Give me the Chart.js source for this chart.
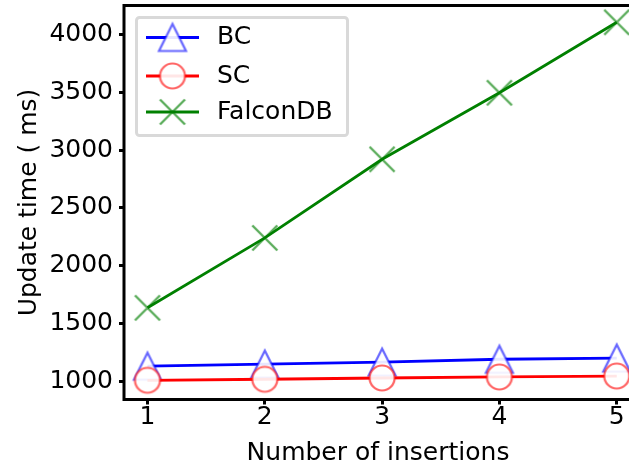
<!DOCTYPE html>
<html>
<head>
<meta charset="utf-8">
<script src="https://cdn.jsdelivr.net/npm/chart.js@4/dist/chart.umd.min.js"></script>
<style>
  html, body { margin: 0; padding: 0; background: #fff; overflow: hidden; }
  canvas { display: block; }
</style>
</head>
<body>
<canvas id="chart" width="632" height="463"></canvas>
<script>
// Update time (ms) per number of insertions
const insertions = [1, 2, 3, 4, 5];
const bcTimes = [1130, 1148, 1165, 1190, 1200];
const scTimes = [1008, 1017, 1028, 1037, 1045];
const falconTimes = [1635, 2240, 2920, 3495, 4105];
const yTickValues = [1000, 1500, 2000, 2500, 3000, 3500, 4000];
const seriesNames = ['BC', 'SC', 'FalconDB'];

const FONT = "'DejaVu Sans', 'Liberation Sans', sans-serif";

// Hollow, semi-transparent markers drawn once onto small canvases
function makeMarker(kind, stroke) {
  const size = 36;
  const c = document.createElement('canvas');
  c.width = size; c.height = size;
  const g = c.getContext('2d');
  const m = size / 2;
  g.lineWidth = 2.2;
  g.strokeStyle = stroke;
  g.fillStyle = 'rgba(255,255,255,0.9)';
  if (kind === 'triangle') {
    const h = 13.5;
    g.beginPath();
    g.moveTo(m, m - h);
    g.lineTo(m - h, m + h);
    g.lineTo(m + h, m + h);
    g.closePath();
    g.fill();
    g.stroke();
  } else if (kind === 'circle') {
    g.beginPath();
    g.arc(m, m, 12.5, 0, Math.PI * 2);
    g.fill();
    g.stroke();
  } else {
    const h = 12.5;
    g.lineWidth = 2.4;
    g.beginPath();
    g.moveTo(m - h, m - h); g.lineTo(m + h, m + h);
    g.moveTo(m - h, m + h); g.lineTo(m + h, m - h);
    g.stroke();
  }
  return c;
}

const bcMarker = makeMarker('triangle', 'rgba(0,0,255,0.6)');
const scMarker = makeMarker('circle', 'rgba(255,0,0,0.6)');
const falconMarker = makeMarker('cross', 'rgba(0,128,0,0.65)');

const toPoints = ys => insertions.map((x, i) => ({ x: x, y: ys[i] }));

function series(label, values, color, marker, order) {
  return {
    label: label,
    data: toPoints(values),
    borderColor: color,
    backgroundColor: color,
    borderWidth: 2.8,
    tension: 0,
    fill: false,
    pointStyle: marker,
    pointRadius: 14,
    pointHoverRadius: 14,
    order: order
  };
}

// Keep the plot box where it is: no extra room reserved for edge labels
function noEdgePadding(s) {
  s.paddingTop = 0;
  s.paddingBottom = 0;
  s.paddingLeft = 0;
  s.paddingRight = 0;
}

// Open-ended frame (left, bottom, top spines; the plot runs off the right edge)
// and the boxed legend with line + marker samples
const frameAndLegend = {
  id: 'frameAndLegend',
  beforeDraw(chart) {
    const { ctx } = chart;
    ctx.save();
    ctx.beginPath();
    ctx.rect(0, 0, chart.width - 3, chart.height);
    ctx.clip();
  },
  afterDatasetsDraw(chart) {
    const { ctx, chartArea } = chart;
    const { left, top, right, bottom } = chartArea;
    ctx.save();
    ctx.strokeStyle = '#000';
    ctx.lineWidth = 3;
    ctx.lineCap = 'butt';
    ctx.beginPath();
    ctx.moveTo(left, top - 1.5);
    ctx.lineTo(left, bottom + 1.5);
    ctx.moveTo(left - 1.5, bottom);
    ctx.lineTo(right + 2, bottom);
    ctx.moveTo(left - 1.5, top);
    ctx.lineTo(right + 2, top);
    ctx.stroke();
    ctx.restore();
  },
  afterDraw(chart) {
    const { ctx, chartArea } = chart;
    const bx = chartArea.left + 12.5;
    const by = chartArea.top + 12;
    ctx.save();
    ctx.beginPath();
    ctx.roundRect(bx, by, 211, 118, 3);
    ctx.fillStyle = 'rgba(255,255,255,0.9)';
    ctx.fill();
    ctx.lineWidth = 3;
    ctx.strokeStyle = '#d9d9d9';
    ctx.stroke();

    const rows = [20, 58.5, 94.5];
    chart.data.datasets.forEach((ds, i) => {
      const y = by + rows[i];
      ctx.strokeStyle = ds.borderColor;
      ctx.lineWidth = 2.8;
      ctx.beginPath();
      ctx.moveTo(bx + 9.5, y);
      ctx.lineTo(bx + 62.5, y);
      ctx.stroke();
      const mk = ds.pointStyle;
      ctx.drawImage(mk, bx + 36 - mk.width / 2, y - mk.height / 2);
      ctx.fillStyle = '#000';
      ctx.font = '25px ' + FONT;
      ctx.textBaseline = 'middle';
      ctx.textAlign = 'left';
      ctx.fillText(ds.label, bx + 80.5, y);
    });
    ctx.restore();
    ctx.restore(); // matches the clip set in beforeDraw
  }
};

const tickFont = { family: FONT, size: 25, lineHeight: 1 };

new Chart(document.getElementById('chart'), {
  type: 'line',
  data: {
    datasets: [
      series(seriesNames[0], bcTimes, '#0000ff', bcMarker, 3),
      series(seriesNames[1], scTimes, '#ff0000', scMarker, 2),
      series(seriesNames[2], falconTimes, '#008000', falconMarker, 1)
    ]
  },
  options: {
    responsive: false,
    animation: false,
    events: [],
    layout: { autoPadding: false, padding: { top: 5.5, right: 0, bottom: 0, left: 0 } },
    plugins: {
      legend: { display: false },
      tooltip: { enabled: false }
    },
    scales: {
      x: {
        type: 'linear',
        min: 0.8,
        max: 5.13,
        afterBuildTicks: s => { s.ticks = insertions.map(v => ({ value: v })); },
        afterFit: s => { s.height = 63.5; noEdgePadding(s); },
        ticks: { font: tickFont, color: '#000', padding: 0, maxRotation: 0, callback: v => String(v) },
        grid: { drawOnChartArea: false, drawTicks: true, tickLength: 5, lineWidth: 3, color: '#000' },
        border: { display: false },
        title: {
          display: true, text: 'Number of insertions', color: '#000',
          font: { family: FONT, size: 25, lineHeight: 1.2 }, padding: { top: 0, bottom: -5.5 }
        }
      },
      y: {
        type: 'linear',
        min: 842,
        max: 4250,
        afterBuildTicks: s => { s.ticks = yTickValues.map(v => ({ value: v })); },
        afterFit: s => { s.width = 124; noEdgePadding(s); },
        ticks: { font: { family: FONT, size: 25 }, color: '#000', padding: 6, callback: v => String(v) },
        grid: { drawOnChartArea: false, drawTicks: true, tickLength: 5, lineWidth: 3, color: '#000' },
        border: { display: false },
        title: {
          display: true, text: 'Update time ( ms)', color: '#000',
          font: { family: FONT, size: 25, lineHeight: 1.2 }, padding: { top: 14, bottom: 0 }
        }
      }
    }
  },
  plugins: [frameAndLegend]
});
</script>
</body>
</html>
